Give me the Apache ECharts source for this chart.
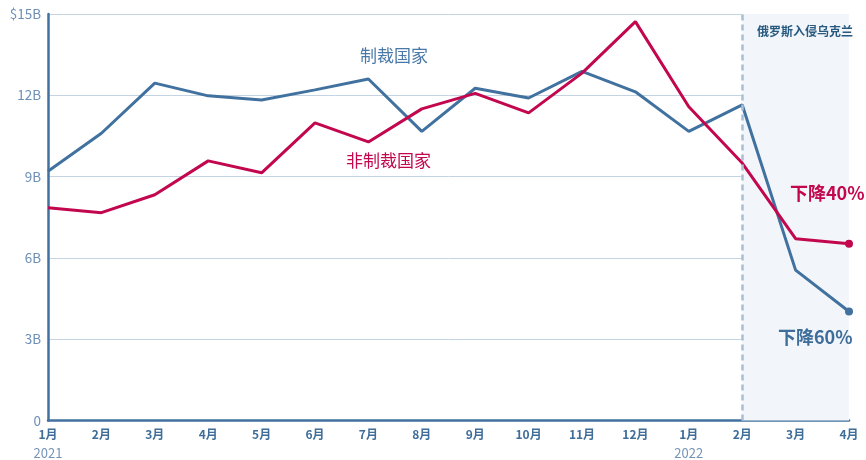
<!DOCTYPE html>
<html>
<head>
<meta charset="utf-8">
<script src="https://cdn.jsdelivr.net/npm/echarts@6/dist/echarts.min.js"></script>
<style>
html,body{margin:0;padding:0;background:#fff;}
#c{width:866px;height:460px;}
</style>
</head>
<body>
<div id="c"></div>
<script>
const months = ['1月','2月','3月','4月','5月','6月','7月','8月','9月','10月','11月','12月','1月','2月','3月','4月'];
const yearLabels = {0:'2021', 12:'2022'};
const sanctioned = [9.2, 10.6, 12.45, 11.98, 11.83, 12.2, 12.6, 10.67, 12.26, 11.9, 12.88, 12.13, 10.67, 11.65, 5.55, 4.02];
const nonSanctioned = [7.85, 7.67, 8.33, 9.58, 9.14, 10.98, 10.28, 11.5, 12.07, 11.35, 12.82, 14.72, 11.58, 9.5, 6.71, 6.52];
const yTicks = {0:'0', 3:'3B', 6:'6B', 9:'9B', 12:'12B', 15:'$15B'};
const invasionIndex = 13;

const BLUE = '#41729f';
const RED = '#c2074f';
const FONT = '"Noto Sans CJK SC", "Noto Sans", sans-serif';

const chart = echarts.init(document.getElementById('c'));
const lastIdx = months.length - 1;
chart.setOption({
  animation: false,
  grid: {left: 48, right: 17, top: 14, bottom: 39},
  xAxis: {
    type: 'category',
    data: months,
    boundaryGap: false,
    axisLine: {lineStyle: {color: BLUE, width: 2.5}},
    axisTick: {show: false},
    axisLabel: {
      margin: 5,
      interval: 0,
      formatter: (v, i) => yearLabels[i] ? '{m|' + v + '}\n{y|' + yearLabels[i] + '}' : '{m|' + v + '}',
      rich: {
        m: {fontFamily: FONT, fontSize: 12, fontWeight: 'bold', color: '#3f6d99', lineHeight: 18},
        y: {fontFamily: FONT, fontSize: 13, color: '#7594b8', lineHeight: 20}
      }
    },
    splitLine: {show: false}
  },
  yAxis: {
    type: 'value',
    min: 0, max: 15, interval: 3,
    axisLine: {show: true, lineStyle: {color: BLUE, width: 2.5}},
    axisTick: {show: false},
    axisLabel: {
      margin: 7,
      formatter: v => yTicks[v],
      fontFamily: FONT, fontSize: 13.5, color: '#6c8fb6'
    },
    splitLine: {lineStyle: {color: '#c4d4e3', width: 1}}
  },
  series: [
    {
      name: '制裁国家',
      type: 'line',
      data: sanctioned,
      z: 3,
      symbol: 'circle',
      symbolSize: (v, p) => p.dataIndex === lastIdx ? 8 : 0,
      itemStyle: {color: BLUE},
      lineStyle: {color: BLUE, width: 3},
      markArea: {
        silent: true,
        itemStyle: {color: '#f2f5f9'},
        data: [[{xAxis: invasionIndex}, {xAxis: lastIdx}]]
      },
      markLine: {
        silent: true,
        symbol: 'none',
        label: {show: false},
        lineStyle: {color: '#a8bfd6', width: 2.5, type: [6, 4]},
        data: [{xAxis: invasionIndex}]
      }
    },
    {
      name: '非制裁国家',
      type: 'line',
      data: nonSanctioned,
      z: 4,
      symbol: 'circle',
      symbolSize: (v, p) => p.dataIndex === lastIdx ? 8 : 0,
      itemStyle: {color: RED},
      lineStyle: {color: RED, width: 3}
    }
  ],
  graphic: {
    elements: [
      {type: 'text', z: 100, left: 360, top: 47, style: {text: '制裁国家', fill: '#4a79a8', font: '17px ' + FONT}},
      {type: 'text', z: 100, left: 346, top: 152, style: {text: '非制裁国家', fill: '#c2074f', font: '17px ' + FONT}},
      {type: 'text', z: 100, left: 757, top: 25, style: {text: '俄罗斯入侵乌克兰', fill: '#275a80', font: 'bold 12px ' + FONT}},
      {type: 'text', z: 100, left: 790, top: 184, style: {text: '下降40%', fill: '#c2074f', font: 'bold 18px ' + FONT}},
      {type: 'text', z: 100, left: 778, top: 328, style: {text: '下降60%', fill: '#3d6d9a', font: 'bold 18px ' + FONT}}
    ]
  }
});
</script>
</body>
</html>
